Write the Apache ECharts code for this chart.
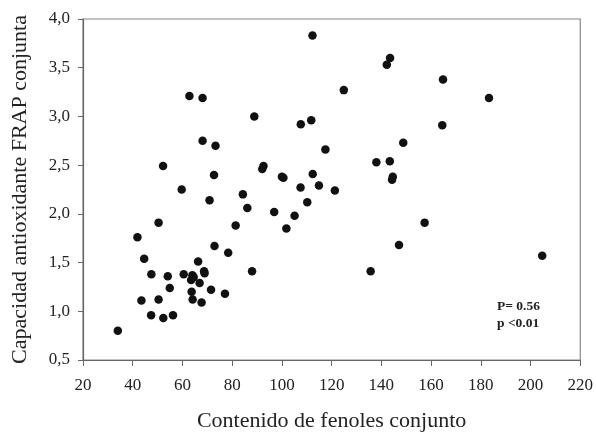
<!DOCTYPE html>
<html>
<head>
<meta charset="utf-8">
<script src="https://cdn.jsdelivr.net/npm/echarts@6/dist/echarts.min.js"></script>
<style>html,body{margin:0;padding:0;background:#fff}#c{width:596px;height:437px}</style>
</head>
<body>
<div id="c"></div>
<script>
var fenoles = [112.3,62.8,68.1,88.9,107.6,111.8,68.1,73.3,117.5,52.2,92.6,92.1,72.7,100,100.6,112.4,114.9,107.5,59.7,84.3,143.5,142.2,164.8,183.3,124.9,164.5,148.8,138.0,143.4,144.6,144.3,121.3,70.9,86.1,96.9,105.1,110.2,101.8,81.4,50.4,41.9,72.9,78.4,44.6,66.3,88.0,47.5,54.1,60.5,64.0,68.7,68.9,63.5,64.5,66.9,54.9,71.5,77.1,63.7,64.1,67.7,43.5,50.4,47.4,52.3,56.2,34.0,157.4,147.1,135.7,204.7];
var frap = [3.83,3.21,3.19,3.00,2.92,2.96,2.75,2.70,2.66,2.49,2.49,2.46,2.40,2.38,2.37,2.41,2.29,2.27,2.25,2.20,3.60,3.53,3.38,3.19,3.27,2.91,2.73,2.53,2.54,2.38,2.35,2.24,2.14,2.06,2.02,1.98,2.12,1.85,1.88,1.91,1.76,1.67,1.60,1.54,1.51,1.41,1.38,1.36,1.38,1.37,1.41,1.39,1.32,1.35,1.29,1.24,1.22,1.18,1.20,1.12,1.09,1.11,1.12,0.96,0.93,0.96,0.80,1.91,1.68,1.41,1.57];
var xTicks = [20,40,60,80,100,120,140,160,180,200,220];
var yTicks = ['0,5','1,0','1,5','2,0','2,5','3,0','3,5','4,0'];
var xName = 'Contenido de fenoles conjunto';
var yName = 'Capacidad antioxidante FRAP conjunta';
var stats = ['P= 0.56', 'p <0.01'];

var pts = fenoles.map(function(v,i){return [v, frap[i]];});
var font = 'Liberation Serif';
var chart = echarts.init(document.getElementById('c'), null, {renderer:'canvas'});
chart.setOption({
  animation:false,
  backgroundColor:'#fff',
  grid:{left:83, right:15.5, top:19, bottom:69.5, show:true, borderColor:'#888', borderWidth:1.2, containLabel:false},
  xAxis:{type:'value', min:xTicks[0], max:xTicks[xTicks.length-1], interval:20,
    name:xName, nameLocation:'middle', nameGap:50,
    nameTextStyle:{fontFamily:font, fontSize:22, color:'#222'},
    axisLine:{show:true, lineStyle:{color:'#666', width:1.2}},
    axisTick:{show:true, inside:false, length:6, lineStyle:{color:'#666'}},
    axisLabel:{fontFamily:font, fontSize:17, color:'#222', margin:17},
    splitLine:{show:false}},
  yAxis:{type:'value', min:0.5, max:4.0, interval:0.5,
    name:yName, nameLocation:'middle', nameGap:52, nameRotate:90,
    nameTextStyle:{fontFamily:font, fontSize:22, color:'#222'},
    axisLine:{show:true, lineStyle:{color:'#666', width:1.2}},
    axisTick:{show:true, inside:false, length:5, lineStyle:{color:'#666'}},
    axisLabel:{fontFamily:font, fontSize:17, color:'#222', margin:13,
      formatter:function(v){var i=Math.round((v-0.5)/0.5);return yTicks[i];}},
    splitLine:{show:false}},
  series:[{type:'scatter', data:pts, symbol:'circle', symbolSize:8.5,
    itemStyle:{color:'#111', opacity:1}}],
  graphic:[
    {type:'text', left:497, top:300, style:{text:stats[0], font:'bold 13.5px "Liberation Serif"', fill:'#222'}},
    {type:'text', left:497, top:317, style:{text:stats[1], font:'bold 13.5px "Liberation Serif"', fill:'#222'}}
  ]
});
</script>
</body>
</html>
